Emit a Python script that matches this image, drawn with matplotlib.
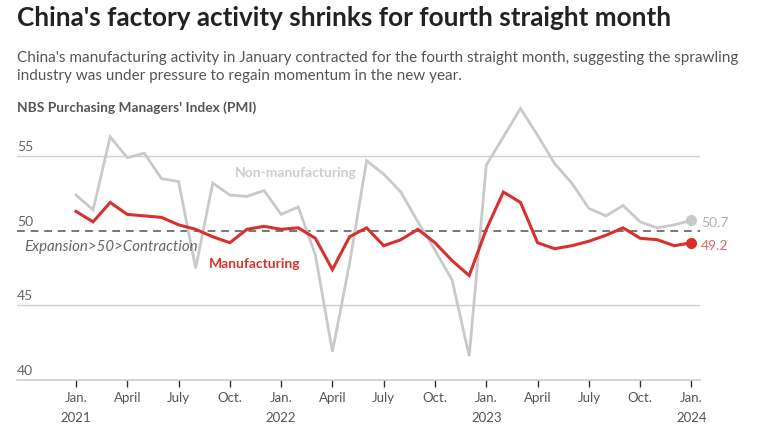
import numpy as np
import matplotlib
matplotlib.use("Agg")
import matplotlib.pyplot as plt

plt.rcParams['font.family'] = ['Lato', 'DejaVu Sans']

# --- data (NBS PMI, Jan 2021 - Jan 2024) ---
manufacturing = [51.3, 50.6, 51.9, 51.1, 51.0, 50.9, 50.4, 50.1, 49.6, 49.2, 50.1, 50.3,
                 50.1, 50.2, 49.5, 47.4, 49.6, 50.2, 49.0, 49.4, 50.1, 49.2, 48.0, 47.0,
                 50.1, 52.6, 51.9, 49.2, 48.8, 49.0, 49.3, 49.7, 50.2, 49.5, 49.4, 49.0,
                 49.2]
non_manufacturing = [52.4, 51.4, 56.3, 54.9, 55.2, 53.5, 53.3, 47.5, 53.2, 52.4, 52.3, 52.7,
                     51.1, 51.6, 48.4, 41.9, 47.8, 54.7, 53.8, 52.6, 50.6, 48.7, 46.7, 41.6,
                     54.4, 56.3, 58.2, 56.4, 54.5, 53.2, 51.5, 51.0, 51.7, 50.6, 50.2, 50.4,
                     50.7]
tick_labels = ["Jan.\n2021", "April", "July", "Oct.", "Jan.\n2022", "April", "July", "Oct.",
               "Jan.\n2023", "April", "July", "Oct.", "Jan.\n2024"]
y_ticks = [40, 45, 50, 55]

RED = "#d8302d"
GREY = "#c9c9c9"

W, H = 757, 441
fig = plt.figure(figsize=(W / 100, H / 100), dpi=100)

# axes placement in pixels
left_px, right_px, top_px, bottom_px = 17, 700, 105, 380
ax = fig.add_axes([left_px / W, 1 - bottom_px / H, (right_px - left_px) / W, (bottom_px - top_px) / H])

x = np.arange(len(manufacturing))
ax.set_xlim(-3.45, 36.5)
ax.set_ylim(40, 40 + (bottom_px - top_px) / 14.92)

for yv in [45, 55]:
    ax.axhline(yv, color="#d0d0d0", lw=1.0, zorder=1)
ax.axhline(50, color="#777777", lw=1.4, ls=(0, (4, 3)), zorder=2)

ax.plot(x, non_manufacturing, color=GREY, lw=2.0, zorder=3, solid_joinstyle="miter")
ax.plot(x, manufacturing, color=RED, lw=2.2, zorder=4, solid_joinstyle="miter")
ax.plot(x[-1], non_manufacturing[-1], "o", color=GREY, ms=7, zorder=5)
ax.plot(x[-1], manufacturing[-1], "o", color=RED, ms=7, zorder=5)

ax.text(x[-1] + 0.55, non_manufacturing[-1] - 0.2, f"{non_manufacturing[-1]}", color="#b0b0b0",
        fontsize=10, va="center", ha="left", clip_on=False)
ax.text(x[-1] + 0.55, manufacturing[-1] - 0.25, f"{manufacturing[-1]}", color="#e06a66",
        fontsize=10, va="center", ha="left", clip_on=False)

ax.text(9.3, 53.9, "Non-manufacturing", color="#cccccc", fontsize=10, fontweight="bold",
        va="center", ha="left")
ax.text(7.8, 47.8, "Manufacturing", color=RED, fontsize=10, fontweight="bold",
        va="center", ha="left")
ax.text(-3.0, 48.9, "Expansion>50>Contraction", color="#666666", fontsize=10.8,
        style="italic", va="center", ha="left")

# y labels sitting above the gridlines
for yv in y_ticks:
    ax.text(-3.45, yv + 0.2, str(yv), color="#666666", fontsize=10, va="bottom", ha="left")

ax.set_yticks([])
ax.set_xticks(np.arange(0, 37, 3))
ax.set_xticklabels(tick_labels, color="#555555", fontsize=9.5, linespacing=1.8)
ax.tick_params(axis="x", length=5, width=1, color="#333333", pad=4)
for s in ["top", "right", "left"]:
    ax.spines[s].set_visible(False)
ax.spines["bottom"].set_color("#cccccc")
ax.spines["bottom"].set_linewidth(1.2)

fig.text(17 / W, 1 - 18 / H, "China's factory activity shrinks for fourth straight month",
         fontsize=18.8, fontweight="bold", color="#222222", va="center", ha="left")
fig.text(17 / W, 1 - 67 / H,
         "China's manufacturing activity in January contracted for the fourth straight month, suggesting the sprawling\n"
         "industry was under pressure to regain momentum in the new year.",
         fontsize=11, color="#555555", va="center", ha="left", linespacing=1.4)
fig.text(17 / W, 1 - 108 / H, "NBS Purchasing Managers' Index (PMI)", fontsize=9.9,
         fontweight="bold", color="#555555", va="center", ha="left")

fig.savefig("out.png", dpi=100, facecolor="white")
